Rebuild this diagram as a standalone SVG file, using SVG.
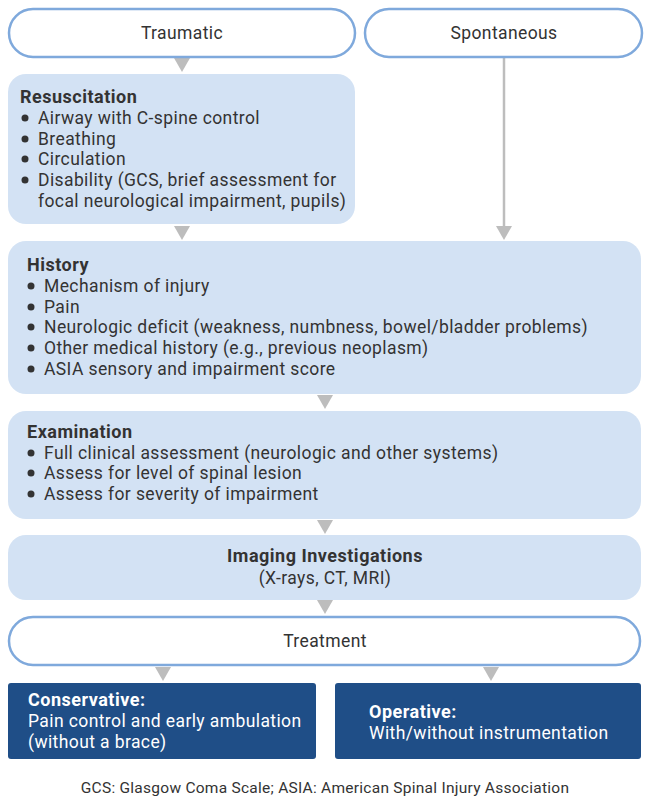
<svg xmlns="http://www.w3.org/2000/svg" width="649" height="805" viewBox="0 0 649 805">
<style>
text{font-family:Roboto,"Liberation Sans",sans-serif;font-size:17.5px;fill:#333;letter-spacing:0.4px}
.b{font-weight:bold;font-size:18px;letter-spacing:0.5px}
.pill{fill:#fff;stroke:#7fa9dc;stroke-width:2.5}
.box{fill:#d3e2f4}
.dark{fill:#1f4e87}
.w{fill:#fff}
.arr{fill:#bdbdbd}
.ln{stroke:#bdbdbd;stroke-width:2.5;fill:none}
.c{text-anchor:middle}
.dot{fill:#333}
.fn{font-size:15.5px;letter-spacing:0.26px}
</style>
<rect width="649" height="805" fill="#fff"/>
<g id="connectors">
<polygon class="arr" points="174,58 190,58 182,72"/>
<polygon class="arr" points="174,226 190,226 182,240"/>
<line class="ln" x1="504" y1="58" x2="504" y2="228"/>
<polygon class="arr" points="496,226 512,226 504,240"/>
<polygon class="arr" points="317,395 333,395 325,409"/>
<polygon class="arr" points="317,520 333,520 325,534"/>
<polygon class="arr" points="317,600 333,600 325,614"/>
<polygon class="arr" points="155,667 171,667 163,681"/>
<polygon class="arr" points="483,667 499,667 491,681"/>
</g>
<g id="traumatic">
<rect class="pill" x="9" y="9" width="346" height="48" rx="24"/>
<text class="c" x="182" y="39">Traumatic</text>
</g>
<g id="spontaneous">
<rect class="pill" x="365" y="9" width="277" height="48" rx="24"/>
<text class="c" x="504" y="39">Spontaneous</text>
</g>
<g id="resuscitation">
<rect class="box" x="8" y="74" width="347" height="150" rx="18"/>
<text class="b" x="20" y="103">Resuscitation</text>
<circle class="dot" cx="25" cy="118" r="3.5"/><text x="38" y="124">Airway with C-spine control</text>
<circle class="dot" cx="25" cy="139" r="3.5"/><text x="38" y="145">Breathing</text>
<circle class="dot" cx="25" cy="159" r="3.5"/><text x="38" y="165">Circulation</text>
<circle class="dot" cx="25" cy="180" r="3.5"/><text x="38" y="186">Disability (GCS, brief assessment for</text>
<text x="38" y="207">focal neurological impairment, pupils)</text>
</g>
<g id="history">
<rect class="box" x="8" y="241" width="633" height="153" rx="18"/>
<text class="b" x="27" y="271">History</text>
<circle class="dot" cx="31" cy="286" r="3.5"/><text x="44" y="292">Mechanism of injury</text>
<circle class="dot" cx="31" cy="307" r="3.5"/><text x="44" y="313">Pain</text>
<circle class="dot" cx="31" cy="327" r="3.5"/><text x="44" y="333">Neurologic deficit (weakness, numbness, bowel/bladder problems)</text>
<circle class="dot" cx="31" cy="348" r="3.5"/><text x="44" y="354">Other medical history (e.g., previous neoplasm)</text>
<circle class="dot" cx="31" cy="369" r="3.5"/><text x="44" y="375">ASIA sensory and impairment score</text>
</g>
<g id="examination">
<rect class="box" x="8" y="411" width="633" height="108" rx="18"/>
<text class="b" x="27" y="438">Examination</text>
<circle class="dot" cx="31" cy="453" r="3.5"/><text x="44" y="459">Full clinical assessment (neurologic and other systems)</text>
<circle class="dot" cx="31" cy="473" r="3.5"/><text x="44" y="479">Assess for level of spinal lesion</text>
<circle class="dot" cx="31" cy="494" r="3.5"/><text x="44" y="500">Assess for severity of impairment</text>
</g>
<g id="imaging">
<rect class="box" x="8" y="535" width="633" height="65" rx="18"/>
<text class="b c" x="325" y="562">Imaging Investigations</text>
<text class="c" x="325" y="584">(X-rays, CT, MRI)</text>
</g>
<g id="treatment">
<rect class="pill" x="9" y="617" width="631" height="48" rx="24"/>
<text class="c" x="325" y="647">Treatment</text>
</g>
<g id="conservative">
<rect class="dark" x="8" y="683" width="308" height="76" rx="3"/>
<text class="b w" x="28" y="706">Conservative:</text>
<text class="w" x="28" y="727">Pain control and early ambulation</text>
<text class="w" x="28" y="748">(without a brace)</text>
</g>
<g id="operative">
<rect class="dark" x="335" y="683" width="306" height="76" rx="3"/>
<text class="b w" x="369" y="718">Operative:</text>
<text class="w" x="369" y="739">With/without instrumentation</text>
</g>
<text class="c fn" x="325" y="793">GCS: Glasgow Coma Scale; ASIA: American Spinal Injury Association</text>
</svg>
